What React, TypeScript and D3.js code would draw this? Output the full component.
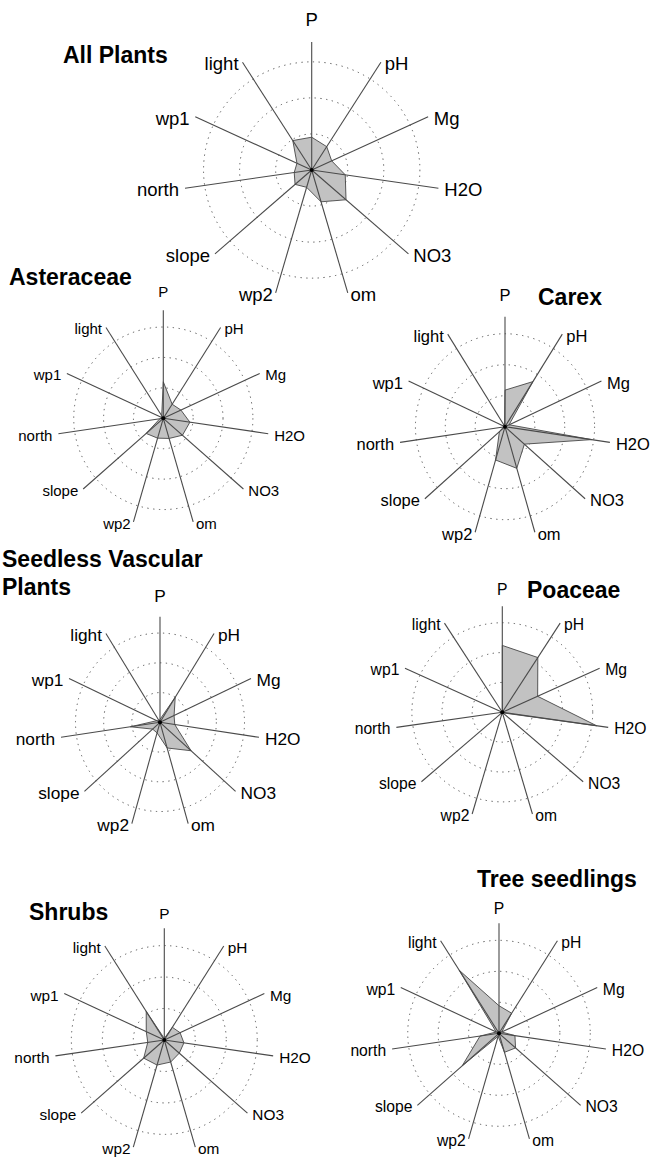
import React from 'react';
import * as d3 from 'd3';

// ---- data ----
const axisNames = ['P', 'pH', 'Mg', 'H2O', 'NO3', 'om', 'wp2', 'slope', 'north', 'wp1', 'light'];
const ringValues = [1, 2, 3];
const axisMax = 3.55;

const allPlants = [0.91, 0.77, 0.61, 0.94, 1.26, 0.92, 0.5, 0.61, 0.49, 0.45, 0.97];
const asteraceae = [1.2, 0.55, 0.65, 0.9, 0.85, 0.69, 0.68, 0.76, 0.12, 0.05, 0.1];
const carex = [1.18, 1.73, 0.15, 2.93, 0.86, 1.4, 1.12, 0.25, 0.05, 0.03, 0.03];
const seedlessVascular = [0.1, 1.0, 0.55, 0.53, 1.46, 0.9, 0.37, 0.35, 1.06, 0.13, 0.05];
const poaceae = [2.24, 2.18, 1.29, 3.16, 0.03, 0.02, 0.02, 0.02, 0.02, 0.02, 0.0];
const shrubs = [0.05, 0.48, 0.56, 0.64, 0.64, 0.73, 0.83, 0.88, 0.54, 0.64, 1.08];
const treeSeedlings = [0.89, 0.77, 0.1, 0.53, 0.72, 0.64, 0.1, 1.6, 0.63, 0.1, 2.42];

const titles = {
  all: ['All Plants'],
  ast: ['Asteraceae'],
  carex: ['Carex'],
  svp: ['Seedless Vascular', 'Plants'],
  poa: ['Poaceae'],
  shr: ['Shrubs'],
  tree: ['Tree seedlings'],
};

// ---- layout ----
const panels = [
  { key: 'all', values: allPlants, cx: 311.7, cy: 170, rx: 128, ry: 128, fs: 18.5, tx: 63, ty: 63, py: 26 },
  { key: 'ast', values: asteraceae, cx: 163.3, cy: 418.3, rx: 106, ry: 108, fs: 15, tx: 9, ty: 285, py: 297 },
  { key: 'carex', values: carex, cx: 505, cy: 426.7, rx: 106, ry: 110, fs: 16.5, tx: 538, ty: 305, py: 301 },
  { key: 'svp', values: seedlessVascular, cx: 160, cy: 722.3, rx: 100, ry: 105.6, fs: 17.3, tx: 2, ty: 567, py: 602 },
  { key: 'poa', values: poaceae, cx: 502.3, cy: 712.3, rx: 107, ry: 106, fs: 15.7, tx: 527, ty: 598, py: 595 },
  { key: 'shr', values: shrubs, cx: 164.3, cy: 1040, rx: 110, ry: 111.7, fs: 15.4, tx: 29, ty: 920, py: 919 },
  { key: 'tree', values: treeSeedlings, cx: 499, cy: 1033.3, rx: 108, ry: 110, fs: 15.7, tx: 477, ty: 887, py: 914 },
];

const FONT = '"Liberation Sans", Arial, Helvetica, sans-serif';

function Radar({ p }: { p: any }) {
  const n = axisNames.length;
  const angle = d3.scaleLinear().domain([0, n]).range([0, 2 * Math.PI]);
  const sx = d3.scaleLinear().domain([0, axisMax]).range([0, p.rx]);
  const sy = d3.scaleLinear().domain([0, axisMax]).range([0, p.ry]);
  const pt = (i: number, v: number): [number, number] => {
    const a = angle(i);
    return [p.cx + Math.sin(a) * sx(v), p.cy - Math.cos(a) * sy(v)];
  };
  const poly = d3.line<number>()
    .x((v, i) => pt(i, v)[0])
    .y((v, i) => pt(i, v)[1])
    .curve(d3.curveLinearClosed)(p.values) as string;

  return (
    <g>
      {ringValues.map((r) => (
        <ellipse key={r} cx={p.cx} cy={p.cy} rx={sx(r)} ry={sy(r)} fill="none"
          stroke="#555" strokeWidth={1} strokeDasharray="1.3 4.5" />
      ))}
      <path d={poly} fill="#c2c2c2" stroke="#333" strokeWidth={0.8} />
      {axisNames.map((name, i) => {
        const [ex, ey] = pt(i, axisMax);
        return <line key={name} x1={p.cx} y1={p.cy} x2={ex} y2={ey} stroke="#4a4a4a" strokeWidth={1.1} />;
      })}
      <circle cx={p.cx} cy={p.cy} r={2} fill="#000" />
      {axisNames.map((name, i) => {
        const a = angle(i);
        const [ex, ey] = pt(i, axisMax);
        if (i === 0) {
          return (
            <text key={name} x={p.cx} y={p.py} textAnchor="middle" fontSize={p.fs} fontFamily={FONT} fill="#000">{name}</text>
          );
        }
        const s = Math.sin(a);
        const gap = 1.5 + 4.5 * Math.abs(s);
        return (
          <text key={name} x={ex + (s > 0 ? gap : -gap)} y={ey + 1.5} textAnchor={s > 0 ? 'start' : 'end'}
            dominantBaseline="central" fontSize={p.fs} fontFamily={FONT} fill="#000">{name}</text>
        );
      })}
      {(titles as any)[p.key].map((t: string, j: number) => (
        <text key={t} x={p.tx} y={p.ty + j * 28} fontSize={23} fontWeight="bold" fontFamily={FONT} fill="#000">{t}</text>
      ))}
    </g>
  );
}

export default function App() {
  return (
    <svg width={654} height={1157} style={{ position: 'absolute', left: 0, top: 0, background: '#fff' }}>
      <rect x={0} y={0} width={654} height={1157} fill="#fff" />
      {panels.map((p) => <Radar key={p.key} p={p} />)}
    </svg>
  );
}
